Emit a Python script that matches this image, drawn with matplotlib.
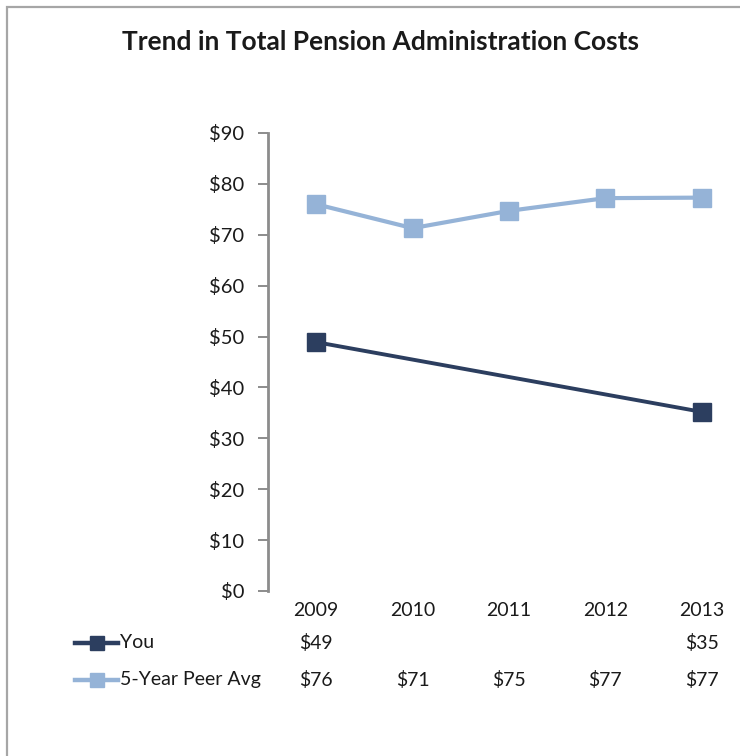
import matplotlib
matplotlib.use("Agg")
import matplotlib.pyplot as plt
from matplotlib.lines import Line2D
from matplotlib.patches import Rectangle
import matplotlib.transforms as mtransforms

# data
years = ["2009", "2010", "2011", "2012", "2013"]
you = [48.9, None, None, None, 35.2]
peer = [76.0, 71.3, 74.7, 77.2, 77.3]
yticks = [0, 10, 20, 30, 40, 50, 60, 70, 80, 90]
series_names = ["You", "5-Year Peer Avg"]

dark = "#2c3e5f"
light = "#95b3d7"
txt = "#1a1a1a"

plt.rcParams["font.family"] = ["Lato", "DejaVu Sans"]

fig = plt.figure(figsize=(7.4, 7.56), dpi=100)
W, H = 740, 756

# outer frame (only left/top visible)
fig.add_artist(Rectangle((7 / W, -0.1), 1.2, 1 - 7 / H + 0.1, transform=fig.transFigure,
                         fill=False, edgecolor="#a6a6a6", lw=1.6))

fig.text(381 / W, 1 - 42 / H, "Trend in Total Pension Administration Costs",
         ha="center", va="center", fontsize=19, fontweight="bold", color=txt)

ax = fig.add_axes([268 / W, 1 - 591 / H, 482 / W, 458 / H])
x = list(range(len(years)))

ax.plot(x, peer, color=light, lw=3, marker="s", markersize=13.5, zorder=3)
you_x = [i for i, v in zip(x, you) if v is not None]
you_y = [v for v in you if v is not None]
ax.plot(you_x, you_y, color=dark, lw=2.8, marker="s", markersize=13, zorder=4)

ax.set_xlim(-0.5, len(years) - 0.5)
ax.set_ylim(0, 90)
ax.set_yticks(yticks)
ax.set_yticklabels(["${}".format(v) for v in yticks])
ax.set_xticks(x)
ax.set_xticklabels(years)
ax.tick_params(axis="y", length=7, width=1.4, color="#8c8c8c", labelsize=14.5,
               labelcolor=txt, pad=10)
ax.tick_params(axis="x", length=0, labelsize=14, labelcolor=txt, pad=8)
for s in ["top", "right", "bottom"]:
    ax.spines[s].set_visible(False)
ax.spines["left"].set_color("#8c8c8c")
ax.spines["left"].set_linewidth(2)
ax.patch.set_alpha(0)

# data table below the axis
tr = mtransforms.blended_transform_factory(ax.transData, fig.transFigure)
rows = [you, peer]
row_y = [643, 680]
colors = [dark, light]
for name, vals, yy, c in zip(series_names, rows, row_y, colors):
    yf = 1 - yy / H
    fig.add_artist(Line2D([75 / W, 97 / W, 118 / W], [yf, yf, yf], transform=fig.transFigure,
                          color=c, lw=3.2, marker="s", markersize=9.5, markevery=[1]))
    fig.text(120 / W, yf, name, ha="left", va="center", fontsize=14, color=txt)
    for i, v in enumerate(vals):
        if v is not None:
            ax.text(i, yf, "${:.0f}".format(v), transform=tr, ha="center", va="center",
                    fontsize=14, color=txt, clip_on=False)

fig.savefig("out.png", dpi=100)
